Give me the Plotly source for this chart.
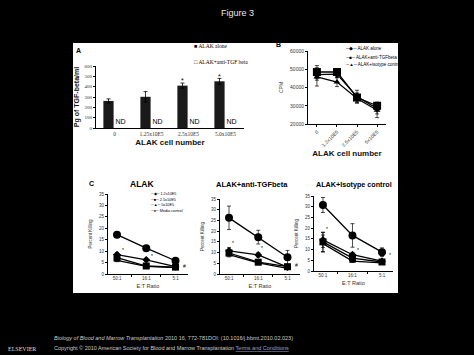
import plotly.graph_objects as go

W, H = 474, 355
def fx(px): return px / W
def fy(py): return 1 - py / H

# ---------------- data ----------------
# Panel A
a_categories = ["0", "1.25x10E5", "2.5x10E5", "5.0x10E5"]
a_alone = [262, 302, 410, 452]
a_alone_err = [20, 50, 25, 28]
a_anti = [0, 0, 0, 0]
a_sig = ["", "", "*", "*"]

# Panel B
b_categories = ["0", "1.2x10E5", "2.5x10E5", "5x10E5"]
b_alone = [47000, 47300, 35000, 28500]
b_alone_err = [3000, 2000, 3500, 3000]
b_anti = [48500, 48500, 34500, 30000]
b_anti_err = [3500, 1500, 2500, 2000]
b_iso = [45800, 43000, 34000, 27500]
b_iso_err = [5000, 2500, 2500, 4000]

# Panel C
c_categories = ["50:1", "16:1", "5:1"]
c_series = ["1.2x10E5", "2.5x10E5", "5x10E5", "Media control"]
c1_vals = [[8.5, 6.2, 3.2], [7.2, 3.5, 3.0], [6.0, 3.3, 2.8], [17.2, 11.3, 5.8]]
c1_errs = [[0.8, 0.6, 0.4], [0.8, 0.5, 0.4], [0.6, 0.4, 0.3], [0.6, 0.6, 0.6]]
c2_vals = [[10.8, 8.9, 3.2], [9.8, 5.5, 3.4], [9.0, 5.2, 2.6], [26.2, 17.2, 7.8]]
c2_errs = [[1.5, 1.0, 0.5], [1.2, 0.8, 0.5], [1.0, 0.6, 0.4], [5.5, 3.2, 3.2]]
c3_vals = [[14.5, 7.6, 4.6], [13.6, 6.0, 4.2], [12.8, 4.6, 3.8], [30.8, 16.6, 8.8]]
c3_errs = [[3.5, 1.0, 0.5], [4.5, 0.8, 0.5], [4.0, 0.6, 0.4], [3.5, 5.5, 2.0]]
c_symbols = ["diamond", "square", "triangle-up", "circle"]
c_sizes = [6, 7, 6, 8]

fig = go.Figure()

# ---------------- Panel A ----------------
fig.add_trace(go.Bar(x=a_categories, y=a_alone, name="ALAK alone",
                     marker=dict(color="#1a1a1a", line=dict(width=0)),
                     error_y=dict(type="data", array=a_alone_err, color="black",
                                  thickness=0.8, width=2),
                     xaxis="x", yaxis="y", showlegend=False))
fig.add_trace(go.Bar(x=a_categories, y=a_anti, name="ALAK+anti-TGF beta",
                     marker=dict(color="white", line=dict(width=0)),
                     text=["ND"] * 4, textposition="outside",
                     textfont=dict(family="Arial", size=7, color="black"),
                     cliponaxis=False,
                     xaxis="x", yaxis="y", showlegend=False))

# ---------------- Panel B ----------------
for vals, errs, sym, size, name in [
    (b_alone, b_alone_err, "diamond", 6, "ALAK alone"),
    (b_anti, b_anti_err, "square", 8, "ALAK+anti-TGFbeta"),
    (b_iso, b_iso_err, "triangle-up", 6, "ALAK+isotype control"),
]:
    fig.add_trace(go.Scatter(x=b_categories, y=vals, mode="lines+markers", name=name,
                             line=dict(color="black", width=1.3),
                             marker=dict(symbol=sym, size=size, color="black"),
                             error_y=dict(type="data", array=errs, color="black",
                                          thickness=0.7, width=2),
                             xaxis="x2", yaxis="y2", showlegend=False))

# ---------------- Panel C ----------------
for k, (vals_all, errs_all) in enumerate([(c1_vals, c1_errs), (c2_vals, c2_errs), (c3_vals, c3_errs)]):
    for vals, errs, sym, size, name in zip(vals_all, errs_all, c_symbols, c_sizes, c_series):
        fig.add_trace(go.Scatter(x=c_categories, y=vals, mode="lines+markers", name=name,
                                 line=dict(color="black", width=1.3),
                                 marker=dict(symbol=sym, size=size, color="black"),
                                 error_y=dict(type="data", array=errs, color="black",
                                              thickness=0.7, width=2),
                                 xaxis=f"x{k+3}", yaxis=f"y{k+3}", showlegend=False))

# ---------------- axes ----------------
tickfont_small = dict(family="Arial", size=4.5, color="#333")
def ax_common():
    return dict(showline=True, linecolor="black", linewidth=1, ticks="outside",
                ticklen=2, tickcolor="black", showgrid=False, zeroline=False,
                automargin=False, fixedrange=True)

layout = dict(
    width=W, height=H, margin=dict(l=0, r=0, t=0, b=0),
    paper_bgcolor="black", plot_bgcolor="rgba(0,0,0,0)",
    barmode="group", bargap=0.35, bargroupgap=0.15,
    showlegend=False,
)
layout["xaxis"] = dict(ax_common(), domain=[fx(96), fx(244)], anchor="y",
                       tickfont=dict(family="Liberation Serif", size=5.5, color="#333"),
                       ticks="", title=dict(text="<b>ALAK cell number</b>",
                                            font=dict(family="Arial", size=8, color="#111"),
                                            standoff=3))
layout["yaxis"] = dict(ax_common(), domain=[fy(128), fy(66)], anchor="x", range=[0, 600],
                       dtick=100, tickfont=dict(family="Liberation Serif", size=5, color="#333"),
                       title=dict(text="<b>Pg of TGF-beta/ml</b>",
                                  font=dict(family="Arial", size=7, color="#111"), standoff=4))
layout["xaxis2"] = dict(ax_common(), domain=[fx(308), fx(386)], anchor="y2",
                        tickangle=-45, tickfont=dict(family="Arial", size=5, color="#333"),
                        title=dict(text="<b>ALAK cell number</b>",
                                   font=dict(family="Arial", size=8, color="#111"), standoff=3))
layout["yaxis2"] = dict(ax_common(), domain=[fy(124), fy(51)], anchor="x2",
                        range=[20000, 60000], dtick=10000, tickformat="d",
                        tickfont=dict(family="Arial", size=5, color="#333"),
                        title=dict(text="CPM", font=dict(family="Arial", size=5, color="#333"),
                                   standoff=6))
c_dom = [([108, 188], [274, 194]), ([220, 300], [274, 199]), ([314, 393], [271, 196])]
for k, (xd, yd) in enumerate(c_dom):
    n = k + 3
    layout[f"xaxis{n}"] = dict(ax_common(), domain=[fx(xd[0]), fx(xd[1])], anchor=f"y{n}",
                               tickson="boundaries", tickfont=tickfont_small,
                               title=dict(text="E:T Ratio",
                                          font=dict(family="Arial", size=5.5, color="#333"),
                                          standoff=3))
    layout[f"yaxis{n}"] = dict(ax_common(), domain=[fy(yd[0]), fy(yd[1])], anchor=f"x{n}",
                               range=[0, 35], dtick=5, tickfont=tickfont_small,
                               title=dict(text="Percent Killing",
                                          font=dict(family="Arial", size=4.5, color="#333"),
                                          standoff=6))
fig.update_layout(**layout)

# white figure panel
fig.add_shape(type="rect", xref="paper", yref="paper", x0=fx(73), x1=fx(398),
              y0=fy(293), y1=fy(43), fillcolor="white", line=dict(width=0), layer="below")

ann = []
def txt(x, y, s, size=6, color="black", family="Arial", xanchor="center", yanchor="middle", **kw):
    ann.append(dict(x=fx(x), y=fy(y), xref="paper", yref="paper", text=s, showarrow=False,
                    font=dict(size=size, color=color, family=family),
                    xanchor=xanchor, yanchor=yanchor, borderpad=0, **kw))

txt(237, 13, "Figure 3", size=9, color="#e6e6e6")
txt(75, 50, "<b>A</b>", size=7, xanchor="left")
txt(275, 44, "<b>B</b>", size=7, xanchor="left")
txt(88, 183, "<b>C</b>", size=7, xanchor="left")
txt(142, 184, "<b>ALAK</b>", size=8.5)
txt(252, 184, "<b>ALAK+anti-TGFbeta</b>", size=7.5)
txt(354, 184, "<b>ALAK+Isotype control</b>", size=7.2)

# significance markers on panel A (data driven)
for cat, v, e, s in zip(a_categories, a_alone, a_alone_err, a_sig):
    if s:
        ann.append(dict(x=cat, y=v + e + 20, xref="x", yref="y", text=s, showarrow=False,
                        xshift=-6, font=dict(size=7, color="black", family="Arial")))

# legends (as text)
txt(193, 46, "\u25A0 ALAK alone", size=5.5, family="Liberation Serif", xanchor="left")
txt(193, 62, "\u25A1 ALAK+anti-TGF beta", size=5.5, family="Liberation Serif", xanchor="left")
txt(344, 48, "\u2500\u25C6\u2500 ALAK alone", size=4.5, xanchor="left")
txt(344, 57, "\u2500\u25A0\u2500 ALAK+anti-TGFbeta", size=4.5, xanchor="left")
txt(344, 65, "\u2500\u25B2\u2500 ALAK+isotype control", size=4.5, xanchor="left")
for i, (s, sym) in enumerate(zip(c_series, ["\u25C6", "\u25A0", "\u25B2", "\u25CF"])):
    txt(149, 194 + i * 5.6, f"\u2500{sym}\u2500 {s}", size=3.8, xanchor="left")

# C significance marks
def mark(axn, cat, y, s, xshift=0):
    ann.append(dict(x=cat, y=y, xref=f"x{axn}", yref=f"y{axn}", text=s, showarrow=False,
                    xshift=xshift, font=dict(size=5, color="black", family="Arial")))
mark(3, "50:1", 10.3, "*", 6); mark(3, "16:1", 7.8, "*", 6); mark(3, "5:1", 3.5, "#", 9)
mark(4, "50:1", 14.5, "*", 4); mark(4, "16:1", 12, "*", 4); mark(4, "5:1", 4, "#", 9)
mark(5, "50:1", 19.5, "*", 4); mark(5, "16:1", 10, "*", 6); mark(5, "5:1", 7.5, "*", 8)

# footer
txt(22, 349, "ELSEVIER", size=6, color="#dddddd", family="Liberation Serif")
txt(53, 338, "<i>Biology of Blood and Marrow Transplantation</i> 2010 16, 772-781DOI: (10.1016/j.bbmt.2010.02.023)",
    size=5.5, color="#cccccc", xanchor="left")
txt(53, 348, "Copyright \u00a9 2010 American Society for Blood and Marrow Transplantation "
    "<span style='color:#9aa0c8'><u>Terms and Conditions</u></span>",
    size=5.5, color="#cccccc", xanchor="left")

fig.update_layout(annotations=ann)
fig.write_html("out.html", config={"displayModeBar": False},
               post_script="document.body.style.margin='0';document.body.style.background='black';")
